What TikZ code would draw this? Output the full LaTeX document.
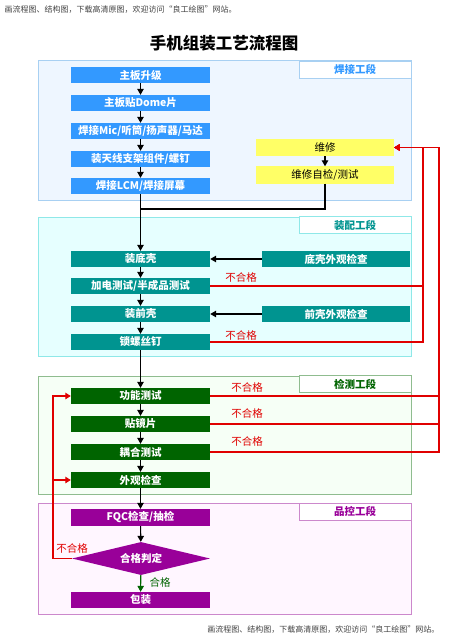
\documentclass[tikz,border=0pt]{standalone}
\usepackage{fontspec}
\setmainfont{Noto Sans CJK SC}
\usetikzlibrary{arrows.meta,shapes.geometric}

\definecolor{weldblue}{HTML}{3399FF}
\definecolor{weldline}{HTML}{A8D0F2}
\definecolor{weldfill}{HTML}{EEF6FF}
\definecolor{fixyellow}{HTML}{FFFF66}
\definecolor{asmteal}{HTML}{009490}
\definecolor{asmline}{HTML}{8FE8E8}
\definecolor{asmfill}{HTML}{E6FFFF}
\definecolor{testgreen}{HTML}{006400}
\definecolor{testline}{HTML}{8FBC8F}
\definecolor{testfill}{HTML}{F6FFF6}
\definecolor{qcpurple}{HTML}{990099}
\definecolor{qcline}{HTML}{CC88CC}
\definecolor{qcfill}{HTML}{FFF6FF}
\definecolor{failred}{HTML}{E00000}

\begin{document}
\begin{tikzpicture}[x=1pt,y=-1pt,
  stepbox/.style={minimum width=139pt, minimum height=16pt, inner sep=0pt,
    text=white, font=\bfseries\fontsize{10.5}{12}\selectfont},
  checkbox/.style={stepbox, minimum width=148pt, fill=asmteal},
  fixbox/.style={stepbox, minimum width=138pt, minimum height=17pt, fill=fixyellow,
    text=black, font=\fontsize{10.5}{12}\selectfont},
  tag/.style={fill=white, minimum width=112pt, minimum height=17pt, inner sep=0pt,
    font=\bfseries\fontsize{10.5}{12}\selectfont},
  flow/.style={-{Triangle[length=6pt,width=6.5pt]}, line width=1.1pt},
  fail/.style={-{Triangle[length=5.5pt,width=6.5pt]}, failred, line width=1.1pt},
  failtext/.style={failred, font=\fontsize{10.5}{12}\selectfont},
  wmtext/.style={font=\fontsize{8}{9}\selectfont, text=black!75}]
\useasboundingbox (0,0) rectangle (449,639);

% watermark and title
\node[wmtext, anchor=west] (wm1) at (1,10) {画流程图、结构图，下载高清原图，欢迎访问“良工绘图”网站。};
\node[wmtext, anchor=east] (wm2) at (443,630) {画流程图、结构图，下载高清原图，欢迎访问“良工绘图”网站。};
\node[font=\bfseries\fontsize{16.5}{18}\selectfont] (title) at (224,43) {手机组装工艺流程图};

% section frames
\filldraw[fill=weldfill, draw=weldline, line width=1pt] (38,61) rectangle (411,200);
\filldraw[fill=asmfill, draw=asmline, line width=1pt] (38,217) rectangle (411,356);
\filldraw[fill=testfill, draw=testline, line width=1pt] (38,376) rectangle (411,494);
\filldraw[fill=qcfill, draw=qcline, line width=1pt] (38,503) rectangle (411,614);
\node[tag, draw=weldline, text=weldblue] (sec1) at (355,69.5) {焊接工段};
\node[tag, draw=asmline, text=asmteal] (sec2) at (355,225) {装配工段};
\node[tag, draw=testline, text=testgreen] (sec3) at (355,384) {检测工段};
\node[tag, draw=qcline, text=qcpurple] (sec4) at (355,511.5) {品控工段};

% welding
\node[stepbox, fill=weldblue] (w1) at (140.5,75) {主板升级};
\node[stepbox, fill=weldblue] (w2) at (140.5,103) {主板贴Dome片};
\node[stepbox, fill=weldblue] (w3) at (140.5,131) {焊接Mic/听筒/扬声器/马达};
\node[stepbox, fill=weldblue] (w4) at (140.5,159) {装天线支架组件/螺钉};
\node[stepbox, fill=weldblue] (w5) at (140.5,186) {焊接LCM/焊接屏幕};
\node[fixbox] (r1) at (325,147.5) {维修};
\node[fixbox] (r2) at (325,175) {维修自检/测试};

% assembly
\node[stepbox, fill=asmteal] (a1) at (140.5,259) {装底壳};
\node[stepbox, fill=asmteal] (a2) at (140.5,286) {加电测试/半成品测试};
\node[stepbox, fill=asmteal] (a3) at (140.5,314) {装前壳};
\node[stepbox, fill=asmteal] (a4) at (140.5,342) {锁螺丝钉};
\node[checkbox] (c1) at (336,259) {底壳外观检查};
\node[checkbox] (c2) at (336,314) {前壳外观检查};

% inspection
\node[stepbox, fill=testgreen] (t1) at (140.5,396) {功能测试};
\node[stepbox, fill=testgreen] (t2) at (140.5,424) {贴镜片};
\node[stepbox, fill=testgreen] (t3) at (140.5,452) {耦合测试};
\node[stepbox, fill=testgreen] (t4) at (140.5,480) {外观检查};

% quality control
\node[stepbox, fill=qcpurple, minimum height=17pt] (q1) at (140.5,517.5) {FQC检查/抽检};
\node[diamond, fill=qcpurple, text=white, minimum width=138pt, minimum height=33pt,
  aspect=4.2, inner sep=0pt, font=\bfseries\fontsize{10.5}{12}\selectfont] (dec) at (141,558.5) {合格判定};
\node[stepbox, fill=qcpurple] (q2) at (140.5,600) {包装};

% main flow
\draw[flow] (w1) -- (w2);
\draw[flow] (w2) -- (w3);
\draw[flow] (w3) -- (w4);
\draw[flow] (w4) -- (w5);
\draw[flow] (r1) -- (r2);
\coordinate (join) at (140.5,209);
\draw[line width=1.1pt] (r2.south) |- (join);
\draw[flow] (w5) -- (a1);
\draw[flow] (a1) -- (a2);
\draw[flow] (a2) -- (a3);
\draw[flow] (a3) -- (a4);
\draw[flow] (c1) -- (a1);
\draw[flow] (c2) -- (a3);
\draw[flow] (a4) -- (t1);
\draw[flow] (t1) -- (t2);
\draw[flow] (t2) -- (t3);
\draw[flow] (t3) -- (t4);
\draw[flow] (t4) -- (q1);
\draw[flow] (q1) -- (dec);
\draw[flow, testgreen] (dec) -- (q2);
\node[testgreen, anchor=west, font=\fontsize{10.5}{12}\selectfont] (ok) at (146,582) {合格};

% back to repair
\coordinate (bus1) at (423,147.5);
\coordinate (bus2) at (439,147.5);
\draw[fail] (a2.east) -| (bus1) -- (r1.east);
\draw[fail] (a4.east) -| (bus1) -- (r1.east);
\draw[fail] (t1.east) -| (bus2) -- (r1.east);
\draw[fail] (t2.east) -| (bus2) -- (r1.east);
\draw[fail] (t3.east) -| (bus2) -- (r1.east);
\node[failtext] (f1) at (241,277) {不合格};
\node[failtext] (f2) at (241,335) {不合格};
\node[failtext] (f3) at (247,387) {不合格};
\node[failtext] (f4) at (247,413) {不合格};
\node[failtext] (f5) at (247,441) {不合格};

% rework loop
\coordinate (lbus) at (53,396);
\draw[fail] (dec.west) -| (lbus) -- (t1.west);
\draw[fail] (dec.west) -| (lbus |- t4.west) -- (t4.west);
\node[failtext] (f6) at (72,548) {不合格};
\end{tikzpicture}
\end{document}
